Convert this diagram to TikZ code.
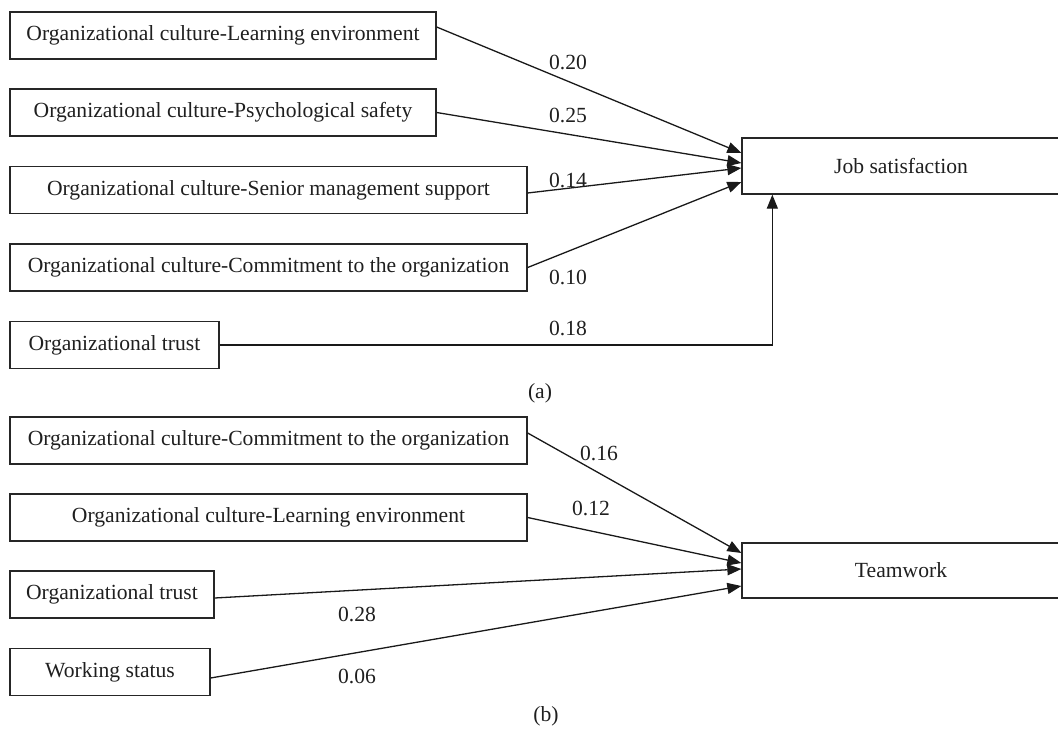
\documentclass[tikz,border=0pt]{standalone}
\usepackage{fontspec}
\setmainfont{Liberation Serif}
\usetikzlibrary{arrows.meta}
\tikzset{
  var/.style={draw=black!85,line width=1.3pt,minimum height=47pt,inner sep=0pt,text=black!88,font=\fontsize{21.6}{25}\selectfont},
  effect/.style={draw=black!90,line width=1.3pt,-{Triangle[length=14pt,width=11pt]}},
  coef/.style={inner sep=0pt,text=black!88,font=\fontsize{21.6}{25}\selectfont}
}
\begin{document}
\begin{tikzpicture}[x=1pt,y=-1pt]
\useasboundingbox (0,0) rectangle (1058,733);
\node[var,minimum width=426pt] (lenvA) at (223,35.5) {Organizational culture-Learning environment};
\node[var,minimum width=426pt] (psafeA) at (223,112.5) {Organizational culture-Psychological safety};
\node[var,minimum width=517pt] (seniorA) at (268.5,190) {Organizational culture-Senior management support};
\node[var,minimum width=517pt] (commitA) at (268.5,267.5) {Organizational culture-Commitment to the organization};
\node[var,minimum width=209pt] (trustA) at (114.5,345) {Organizational trust};
\node[var,minimum width=318pt,minimum height=56pt] (jobsat) at (901,166) {Job satisfaction};
\draw[effect] ([yshift=8.5pt]lenvA.east) -- ([yshift=13pt]jobsat.west);
\draw[effect] (psafeA.east) -- ([yshift=3pt]jobsat.west);
\draw[effect] ([yshift=-3pt]seniorA.east) -- ([yshift=-2pt]jobsat.west);
\draw[effect] (commitA.east) -- ([yshift=-16pt]jobsat.west);
\draw[effect] (trustA.east) -| ([xshift=31pt]jobsat.south west);
\node[coef] (c20) at (568,62) {0.20};
\node[coef] (c25) at (568,115) {0.25};
\node[coef] (c14) at (568,180) {0.14};
\node[coef] (c10) at (568,277) {0.10};
\node[coef] (c18) at (568,328) {0.18};
\node[coef] (panelA) at (540,393) {(a)};
\node[var,minimum width=517pt] (commitB) at (268.5,440.5) {Organizational culture-Commitment to the organization};
\node[var,minimum width=517pt] (lenvB) at (268.5,517.5) {Organizational culture-Learning environment};
\node[var,minimum width=204pt] (trustB) at (112,594.5) {Organizational trust};
\node[var,minimum width=200pt] (work) at (110,672) {Working status};
\node[var,minimum width=318pt,minimum height=55pt] (team) at (901,570.5) {Teamwork};
\draw[effect] ([yshift=7.5pt]commitB.east) -- ([yshift=17.5pt]team.west);
\draw[effect] (lenvB.east) -- ([yshift=7.5pt]team.west);
\draw[effect] ([yshift=-3.5pt]trustB.east) -- ([yshift=1.5pt]team.west);
\draw[effect] ([yshift=-6pt]work.east) -- ([yshift=-15.5pt]team.west);
\node[coef] (c16) at (599,453) {0.16};
\node[coef] (c12) at (591,508) {0.12};
\node[coef] (c28) at (357,614) {0.28};
\node[coef] (c06) at (357,676) {0.06};
\node[coef] (panelB) at (546,716) {(b)};
\end{tikzpicture}
\end{document}
